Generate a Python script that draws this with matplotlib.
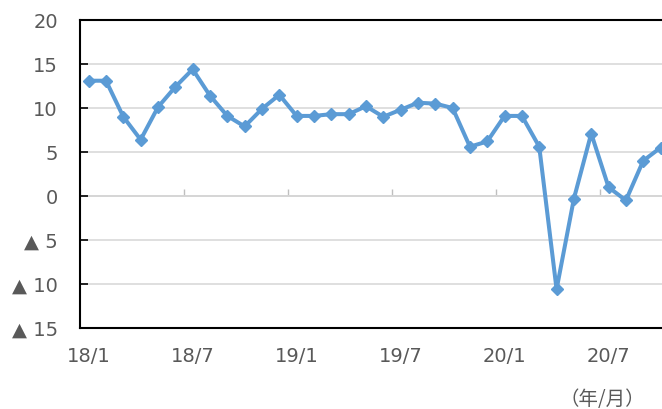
import numpy as np
import matplotlib
matplotlib.use("Agg")
import matplotlib.pyplot as plt
from matplotlib.ticker import FixedLocator, FuncFormatter

plt.rcParams['font.family'] = ['DejaVu Sans', 'Noto Sans CJK JP']

# monthly values, 18/1 .. 20/10
months = ['18/1', '18/2', '18/3', '18/4', '18/5', '18/6', '18/7', '18/8', '18/9', '18/10', '18/11', '18/12',
          '19/1', '19/2', '19/3', '19/4', '19/5', '19/6', '19/7', '19/8', '19/9', '19/10', '19/11', '19/12',
          '20/1', '20/2', '20/3', '20/4', '20/5', '20/6', '20/7', '20/8', '20/9', '20/10']
values = [13.1, 13.1, 9.0, 6.4, 10.1, 12.4, 14.4, 11.4, 9.1, 7.9, 9.9, 11.5,
          9.1, 9.1, 9.3, 9.3, 10.2, 9.0, 9.8, 10.6, 10.5, 10.0, 5.6, 6.2,
          9.1, 9.1, 5.6, -10.6, -0.3, 7.1, 1.0, -0.5, 4.0, 5.5]
yticks = [-15, -10, -5, 0, 5, 10, 15, 20]
label_months = ['18/1', '18/7', '19/1', '19/7', '20/1', '20/7']

txt = '#595959'
blue = '#5B9BD5'

fig = plt.figure(figsize=(6.62, 4.09), dpi=100)
W, H = 662, 409
n = len(months)
bin_w = 17.33
ax = fig.add_axes([80 / W, (H - 328) / H, n * bin_w / W, 308 / H])

x = np.arange(n)
ax.plot(x, values, color=blue, lw=2.9, marker='D', ms=6, zorder=3, clip_on=False)

ax.set_xlim(-0.5, n - 0.5)
ax.set_ylim(-15, 20)

# y axis, negatives shown with a triangle
ax.set_yticks(yticks)
ax.yaxis.set_major_formatter(FuncFormatter(lambda v, p: f'▲ {abs(int(v))}' if v < 0 else f'{int(v)}'))
ax.tick_params(axis='y', direction='in', length=6, width=1.2, color='black',
               labelcolor=txt, labelsize=14, pad=16)

ax.grid(axis='y', color='#D9D9D9', lw=1.2)
ax.set_axisbelow(True)

# x axis labels at category centres
pos = [months.index(m) for m in label_months]
ax.set_xticks(pos)
ax.set_xticklabels(label_months)
ax.tick_params(axis='x', length=0, labelcolor=txt, labelsize=14, pad=14)

for s in ax.spines.values():
    s.set_color('black')
    s.set_linewidth(1.5)

# zero line with boundary ticks
sec = ax.secondary_xaxis(15 / 35)
sec.spines['bottom'].set_color('#BFBFBF')
sec.spines['bottom'].set_linewidth(1.2)
sec.xaxis.set_major_locator(FixedLocator([p - 0.5 for p in range(0, n, 6)]))
sec.tick_params(axis='x', direction='in', length=5, width=1, color='#BFBFBF', labelbottom=False)

fig.text(602 / W, 1 - 400 / H, '（年/月）', ha='center', va='center', fontsize=14, color=txt,
         family=['Noto Sans CJK JP', 'DejaVu Sans'])

fig.savefig('out.png', dpi=100)
